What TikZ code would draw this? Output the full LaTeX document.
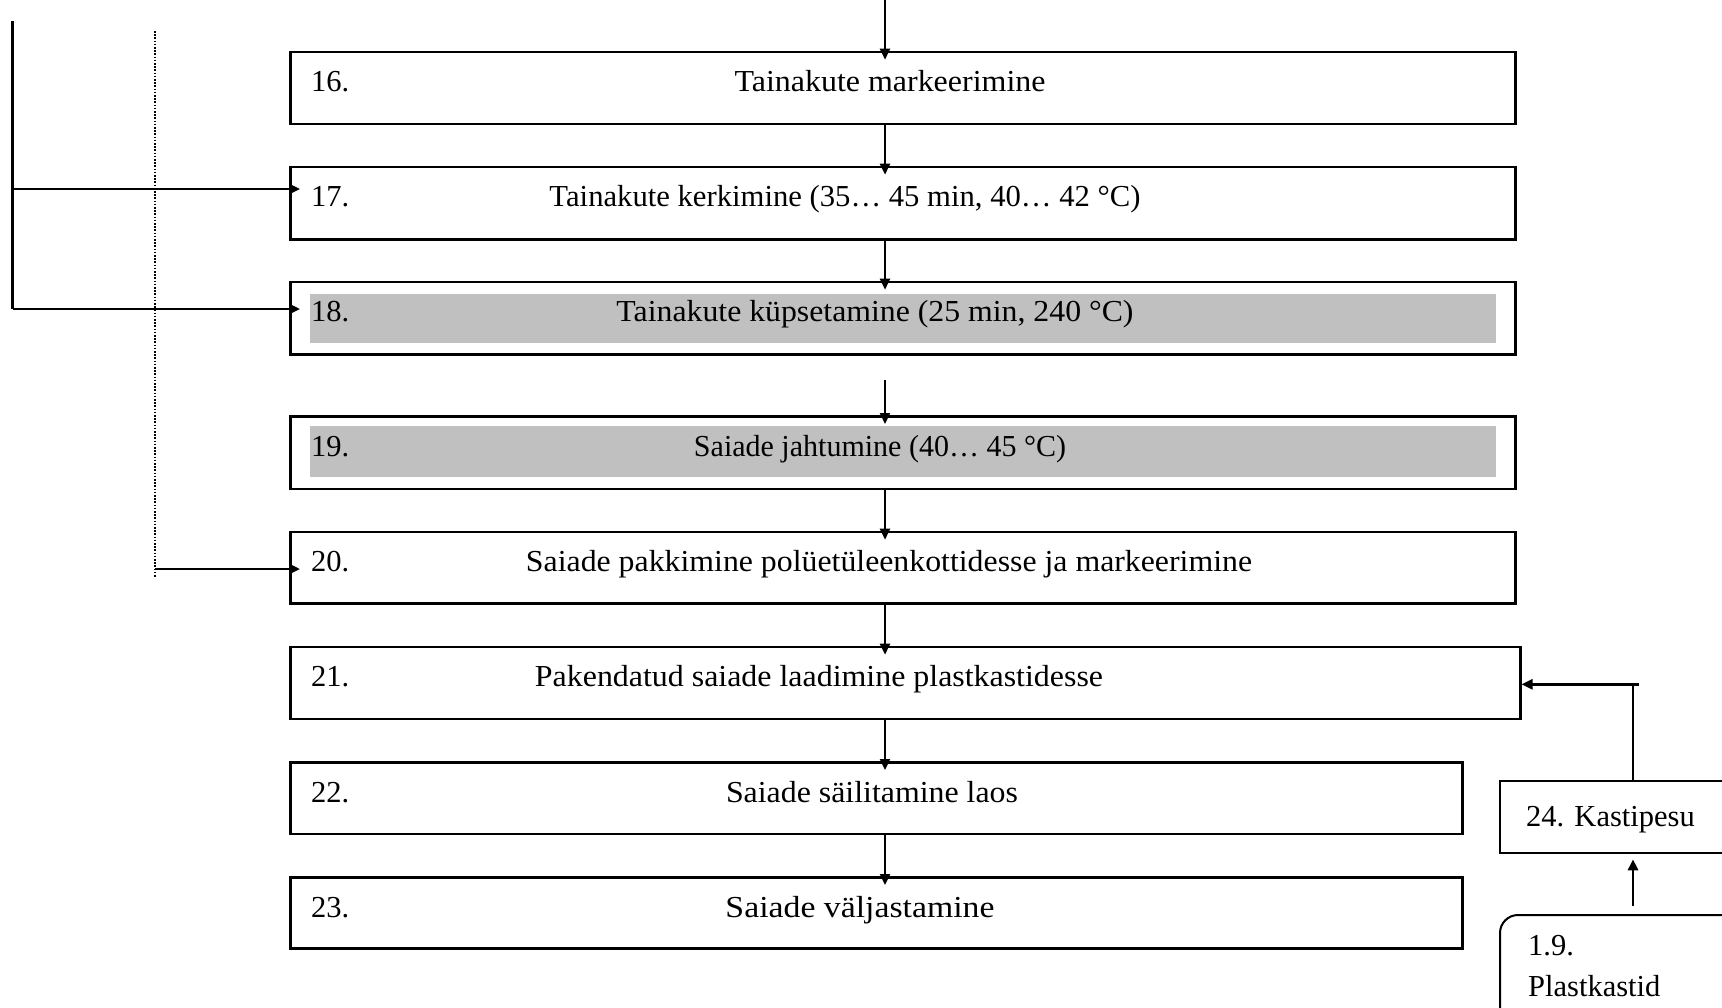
\documentclass[tikz,border=0pt]{standalone}
\usepackage{graphicx}
\usepackage{fontspec}
\setmainfont{Liberation Serif}
\usetikzlibrary{arrows.meta}
\definecolor{shade}{HTML}{C0C0C0}
\tikzset{
  stepbox/.style={draw=black, line width=2.6pt, inner sep=0pt, anchor=north west},
  shadebox/.style={fill=shade, draw=none, inner sep=0pt, anchor=north west},
  txt/.style={inner sep=0pt, font=\fontsize{30.5}{36}\selectfont},
  flow/.style={line width=2.3pt, -{Triangle[length=11pt,width=10pt]}},
  into/.style={shorten >=-9pt},
  thinline/.style={line width=1.5pt},
}
% fit a label to a given width by stretching it horizontally only
\newcommand{\fitw}[2]{\resizebox{#1pt}{\height}{#2}}
\begin{document}
\begin{tikzpicture}[x=1pt, y=-1pt]
\clip (0,0) rectangle (1722,1007);

% process steps
\node[stepbox, minimum width=1225pt, minimum height=72pt] (b16) at (289,50.7) {};
\node[stepbox, minimum width=1225pt, minimum height=72.3pt] (b17) at (289,165.7) {};
\node[stepbox, minimum width=1225pt, minimum height=72.6pt] (b18) at (289,280.7) {};
\node[shadebox, minimum width=1186pt, minimum height=49.4pt] (g18) at (310,293.3) {};
\node[stepbox, minimum width=1225pt, minimum height=72.7pt] (b19) at (289,415) {};
\node[shadebox, minimum width=1186pt, minimum height=50.7pt] (g19) at (310,426) {};
\node[stepbox, minimum width=1225pt, minimum height=71.6pt] (b20) at (289,530.7) {};
\node[stepbox, minimum width=1230pt, minimum height=72pt] (b21) at (289,645.7) {};
\node[stepbox, minimum width=1172pt, minimum height=71.7pt] (b22) at (289,761) {};
\node[stepbox, minimum width=1172pt, minimum height=71pt] (b23) at (289,876) {};
\node[stepbox, line width=2pt, minimum width=260pt, minimum height=72pt] (b24) at (1499,780.3) {};
\node[stepbox, line width=2pt, rounded corners=18pt, minimum width=260pt, minimum height=140pt] (src) at (1499,914) {};

% step numbers
\node[txt, anchor=base west] (n16) at (311,91.7) {16.};
\node[txt, anchor=base west] (n17) at (311,206.7) {17.};
\node[txt, anchor=base west] (n18) at (311,321.7) {18.};
\node[txt, anchor=base west] (n19) at (311,456) {19.};
\node[txt, anchor=base west] (n20) at (311,571.7) {20.};
\node[txt, anchor=base west] (n21) at (311,686.7) {21.};
\node[txt, anchor=base west] (n22) at (311,802) {22.};
\node[txt, anchor=base west] (n23) at (311,917) {23.};

% step descriptions
\node[txt, anchor=base] (t16) at (890,91.7) {\fitw{311}{Tainakute markeerimine}};
\node[txt, anchor=base] (t17) at (845,206.7) {\fitw{591}{Tainakute kerkimine (35…\ 45 min, 40…\ 42 °C)}};
\node[txt, anchor=base] (t18) at (875,321.7) {\fitw{517}{Tainakute küpsetamine (25 min, 240 °C)}};
\node[txt, anchor=base] (t19) at (880,456) {\fitw{372}{Saiade jahtumine (40…\ 45 °C)}};
\node[txt, anchor=base] (t20) at (889,571.7) {\fitw{726}{Saiade pakkimine polüetüleenkottidesse ja markeerimine}};
\node[txt, anchor=base] (t21) at (819,686.7) {\fitw{568}{Pakendatud saiade laadimine plastkastidesse}};
\node[txt, anchor=base] (t22) at (872,802) {\fitw{292}{Saiade säilitamine laos}};
\node[txt, anchor=base] (t23) at (860,917) {\fitw{269}{Saiade väljastamine}};
\node[txt, anchor=base west] (t24) at (1526,826) {24. Kastipesu};
\node[txt, anchor=base west] (tsrc1) at (1528,955) {1.9.};
\node[txt, anchor=base west] (tsrc2) at (1528,996) {Plastkastid};

% main flow
\coordinate (top) at (885,0);
\draw[flow, into] (top) -- (b16.north -| top);
\draw[flow, into] (b16.south -| top) -- (b17.north -| top);
\draw[flow, into] (b17.south -| top) -- (b18.north -| top);
\draw[flow, into, shorten <=24pt] (b18.south -| top) -- (b19.north -| top);
\draw[flow, into] (b19.south -| top) -- (b20.north -| top);
\draw[flow, into] (b20.south -| top) -- (b21.north -| top);
\draw[flow, into] (b21.south -| top) -- (b22.north -| top);
\draw[flow, into] (b22.south -| top) -- (b23.north -| top);

% side feeds on the left
\coordinate (L0) at (12.7,21);
\coordinate (L1) at (12.7,189);
\coordinate (L2) at (12.7,309);
\draw[line width=2.5pt] (L0) -- (L2);
\draw[flow, line width=2.6pt, shorten >=-11pt] (L1) -- (L1 -| b17.west);
\draw[flow, line width=2.6pt, shorten >=-11pt] (L2) -- (L2 -| b18.west);

\coordinate (D0) at (155,31);
\coordinate (D1) at (155,578);
\coordinate (D2) at (155,569);
\draw[line width=2pt, dash pattern=on 1.6pt off 1.6pt] (D0) -- (D1);
\draw[flow, line width=2.6pt, shorten >=-11pt] (D2) -- (D2 -| b20.west);

% crate washing loop
\coordinate (K1) at (1633,684.3);
\coordinate (K2) at (1639,684.3);
\draw[thinline] (b24.north -| K1) -- (K1);
\draw[flow, line width=2.6pt] (K2) -- (K2 -| b21.east);
\draw[flow, line width=2.8pt, shorten <=8pt, shorten >=5pt] (src.north -| K1) -- (b24.south -| K1);
\end{tikzpicture}
\end{document}
